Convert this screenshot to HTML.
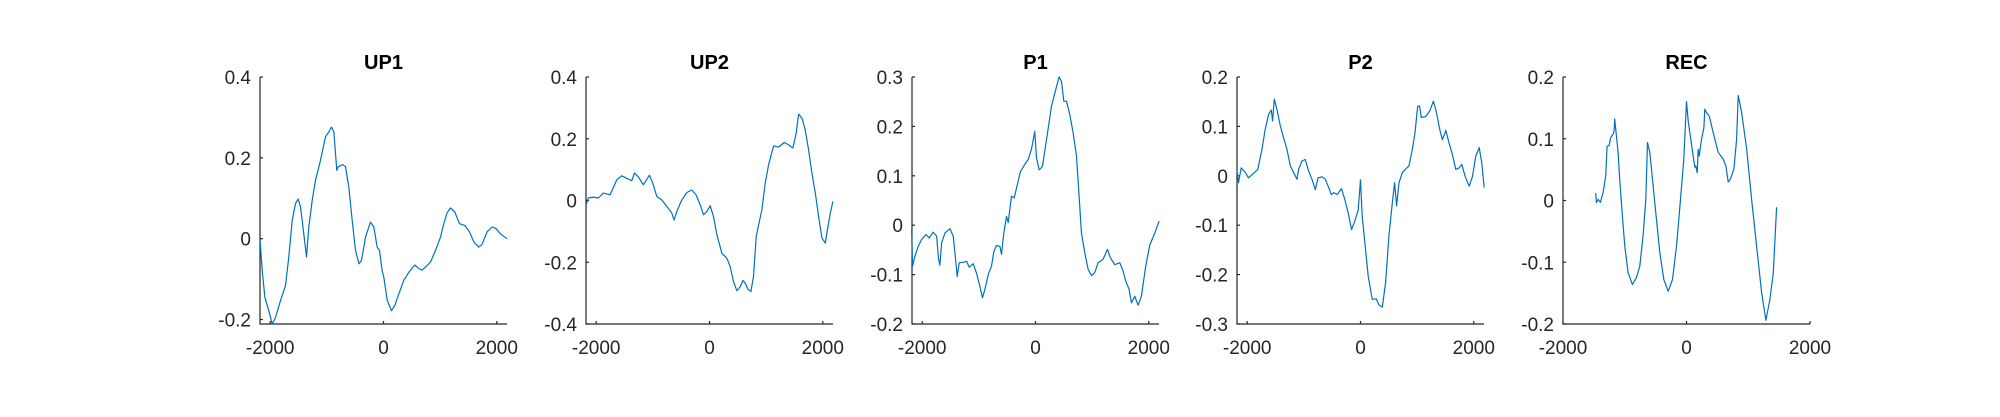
<!DOCTYPE html>
<html><head><meta charset="utf-8">
<style>
html,body{margin:0;padding:0;background:#fff;}
svg{display:block;font-family:"Liberation Sans",Arial,sans-serif;}
</style></head>
<body>
<svg id="fig" width="2000" height="417" viewBox="0 0 2000 417" xmlns="http://www.w3.org/2000/svg"></svg>
<script>
// Panel data (x in samples, y in values)
const up1X=[-2176,-2141,-2094,-2024,-1965,-1906,-1818,-1729,-1671,-1612,-1553,-1506,-1465,-1406,-1359,-1318,-1259,-1200,-1112,-1023,-965,-918,-876,-847,-824,-800,-718,-671,-612,-553,-494,-435,-388,-318,-229,-171,-112,-71,-24,6,65,141,200,271,359,447,553,624,682,771,829,918,1006,1065,1123,1182,1259,1341,1435,1518,1594,1682,1741,1829,1918,1988,2065,2124,2182];
const up1Y=[-0.008,-0.079,-0.145,-0.178,-0.211,-0.195,-0.153,-0.116,-0.045,0.045,0.087,0.098,0.079,0.012,-0.045,0.029,0.095,0.145,0.194,0.252,0.264,0.276,0.264,0.211,0.169,0.178,0.183,0.178,0.128,0.045,-0.029,-0.062,-0.054,0.004,0.041,0.029,-0.021,-0.029,-0.079,-0.095,-0.152,-0.178,-0.165,-0.136,-0.103,-0.083,-0.065,-0.074,-0.078,-0.066,-0.058,-0.029,0.004,0.037,0.064,0.076,0.066,0.037,0.033,0.017,-0.008,-0.021,-0.014,0.017,0.029,0.025,0.012,0.006,0.000];
const up2X=[-2179,-2138,-2050,-1961,-1873,-1755,-1637,-1549,-1461,-1372,-1325,-1255,-1166,-1060,-1001,-931,-842,-754,-666,-624,-577,-489,-401,-312,-236,-165,-106,-47,12,71,130,218,306,365,424,483,542,589,630,677,730,777,825,866,925,984,1043,1131,1219,1319,1396,1473,1531,1573,1632,1690,1749,1808,1867,1926,1985,2044,2091,2132,2179];
const up2Y=[-0.014,0.008,0.011,0.008,0.024,0.018,0.067,0.080,0.072,0.064,0.089,0.076,0.051,0.082,0.056,0.013,0.002,-0.019,-0.041,-0.063,-0.036,0.002,0.026,0.034,0.018,-0.014,-0.046,-0.036,-0.017,-0.052,-0.111,-0.171,-0.187,-0.214,-0.263,-0.292,-0.279,-0.259,-0.268,-0.287,-0.295,-0.246,-0.117,-0.079,-0.030,0.056,0.116,0.177,0.173,0.188,0.180,0.170,0.218,0.280,0.267,0.229,0.164,0.089,0.024,-0.052,-0.122,-0.138,-0.084,-0.041,-0.003];
const p1X=[-2187,-2170,-2129,-2070,-2011,-1935,-1876,-1805,-1746,-1711,-1688,-1658,-1599,-1511,-1452,-1405,-1382,-1347,-1276,-1217,-1170,-1100,-1041,-982,-935,-894,-835,-776,-735,-688,-629,-600,-559,-512,-482,-423,-376,-335,-265,-188,-129,-71,-12,18,65,123,194,282,359,417,459,500,547,606,664,723,770,811,870,929,988,1047,1105,1194,1270,1323,1399,1488,1546,1593,1652,1693,1752,1811,1870,1946,2017,2105,2181];
const p1Y=[-0.009,-0.083,-0.063,-0.043,-0.029,-0.019,-0.026,-0.014,-0.022,-0.069,-0.081,-0.036,-0.016,-0.007,-0.022,-0.076,-0.104,-0.076,-0.075,-0.073,-0.085,-0.078,-0.097,-0.124,-0.147,-0.130,-0.100,-0.083,-0.053,-0.041,-0.043,-0.059,-0.016,0.018,0.005,0.059,0.055,0.075,0.109,0.123,0.133,0.154,0.190,0.136,0.112,0.119,0.173,0.241,0.275,0.300,0.291,0.251,0.251,0.224,0.187,0.140,0.059,-0.015,-0.056,-0.089,-0.102,-0.096,-0.076,-0.069,-0.049,-0.066,-0.080,-0.076,-0.093,-0.113,-0.130,-0.157,-0.144,-0.162,-0.144,-0.083,-0.040,-0.016,0.008];
const p2X=[-2183,-2154,-2106,-2036,-1977,-1888,-1813,-1741,-1682,-1623,-1575,-1552,-1522,-1475,-1416,-1357,-1298,-1239,-1180,-1121,-1092,-1033,-974,-915,-856,-797,-749,-679,-620,-561,-513,-472,-413,-336,-277,-218,-159,-100,-41,0,30,77,136,207,277,325,384,443,502,561,602,637,679,738,797,856,914,962,1009,1044,1074,1151,1221,1286,1339,1398,1446,1505,1564,1623,1682,1741,1788,1847,1918,1977,2036,2095,2142,2183];
const p2Y=[0.013,-0.014,0.016,0.007,-0.004,0.005,0.013,0.053,0.094,0.124,0.133,0.111,0.155,0.135,0.101,0.077,0.053,0.020,0.006,-0.007,0.013,0.030,0.033,0.009,-0.007,-0.028,-0.004,-0.002,-0.007,-0.024,-0.038,-0.034,-0.038,-0.026,-0.048,-0.075,-0.109,-0.092,-0.069,-0.008,-0.082,-0.136,-0.203,-0.250,-0.249,-0.261,-0.266,-0.216,-0.122,-0.055,-0.014,-0.061,-0.014,0.006,0.014,0.020,0.053,0.087,0.141,0.141,0.118,0.120,0.131,0.151,0.129,0.094,0.073,0.092,0.066,0.043,0.013,0.016,0.023,-0.001,-0.021,-0.001,0.040,0.057,0.026,-0.024];
const recX=[-1470,-1459,-1432,-1394,-1351,-1308,-1286,-1254,-1227,-1189,-1173,-1162,-1135,-1108,-1081,-1038,-1000,-946,-876,-811,-757,-703,-659,-632,-595,-551,-497,-432,-368,-297,-227,-162,-97,-43,0,27,54,108,135,151,173,189,205,243,281,297,324,368,432,513,595,638,676,713,768,811,838,892,973,1054,1135,1216,1286,1351,1405,1459];
const recY=[0.012,-0.003,0.002,-0.003,0.013,0.040,0.088,0.089,0.102,0.107,0.113,0.132,0.105,0.078,0.034,-0.025,-0.074,-0.117,-0.136,-0.125,-0.106,-0.057,0.002,0.094,0.078,0.034,-0.020,-0.084,-0.128,-0.147,-0.128,-0.074,0.002,0.067,0.160,0.129,0.110,0.072,0.054,0.056,0.045,0.083,0.072,0.099,0.118,0.148,0.142,0.137,0.110,0.078,0.067,0.056,0.030,0.035,0.051,0.099,0.170,0.143,0.084,0.002,-0.074,-0.149,-0.194,-0.160,-0.117,-0.011];
const xTicks=[-2000,0,2000];
const ticksUp1=[-0.2,0,0.2,0.4];
const ticksUp2=[-0.4,-0.2,0,0.2,0.4];
const ticksP1=[-0.2,-0.1,0,0.1,0.2,0.3];
const ticksP2=[-0.3,-0.2,-0.1,0,0.1,0.2];
const ticksRec=[-0.2,-0.1,0,0.1,0.2];
const titles=["UP1","UP2","P1","P2","REC"];

const panels=[
 {name:"up1",left:260,xlim:[-2180,2180],ylim:[-0.211,0.4],xs:up1X,ys:up1Y,yt:ticksUp1},
 {name:"up2",left:586,xlim:[-2180,2180],ylim:[-0.4,0.4],xs:up2X,ys:up2Y,yt:ticksUp2},
 {name:"p1",left:912,xlim:[-2180,2180],ylim:[-0.2,0.3],xs:p1X,ys:p1Y,yt:ticksP1},
 {name:"p2",left:1237,xlim:[-2180,2180],ylim:[-0.3,0.2],xs:p2X,ys:p2Y,yt:ticksP2},
 {name:"rec",left:1563,xlim:[-2000,2000],ylim:[-0.2,0.2],xs:recX,ys:recY,yt:ticksRec}
];
const NS="http://www.w3.org/2000/svg";
const svg=document.getElementById('fig');
const TOP=77,BOT=324,W=247;
function mk(tag,attrs,parent){const e=document.createElementNS(NS,tag);for(const k in attrs)e.setAttribute(k,attrs[k]);parent.appendChild(e);return e;}
function fmt(v){if(Math.abs(v)<1e-9)return "0";return String(Math.round(v*10)/10);}
panels.forEach((p,i)=>{
 const g=mk('g',{},svg);
 
 
 const sx=v=>p.left+(v-p.xlim[0])/(p.xlim[1]-p.xlim[0])*W;
 const sy=v=>BOT-(v-p.ylim[0])/(p.ylim[1]-p.ylim[0])*(BOT-TOP);
 const t=mk('text',{x:p.left+W/2,y:69,'text-anchor':'middle','font-size':'20','font-weight':'bold',fill:'#000'},g);
 t.textContent=titles[i];
 
 
 const ax=mk('path',{d:`M${p.left},${TOP}V${BOT}H${p.left+W}`,fill:'none',stroke:'#262626','stroke-width':'1.2'},g);
 
 
 p.yt.forEach(v=>{
  const y=sy(v);
  mk('line',{x1:p.left,x2:p.left+3,y1:y,y2:y,stroke:'#262626','stroke-width':'1.2'},g);
  const l=mk('text',{x:p.left-9,y:y+7,'text-anchor':'end','font-size':'19',fill:'#262626'},g);
  l.textContent=fmt(v);
  
  
 });
 xTicks.forEach(v=>{
  const x=sx(v);
  mk('line',{x1:x,x2:x,y1:BOT,y2:BOT-3,stroke:'#262626','stroke-width':'1.2'},g);
  const l=mk('text',{x:x,y:354,'text-anchor':'middle','font-size':'19',fill:'#262626'},g);
  l.textContent=String(v).replace('-','-');
  
  
 });
 let d='';
 p.xs.forEach((x,k)=>{d+=(k?'L':'M')+sx(x).toFixed(1)+','+sy(p.ys[k]).toFixed(1);});
 const ln=mk('path',{d:d,fill:'none',stroke:'#0072BD','stroke-width':'1.2','stroke-linejoin':'round'},g);
 
 
});
</script>
</body></html>
